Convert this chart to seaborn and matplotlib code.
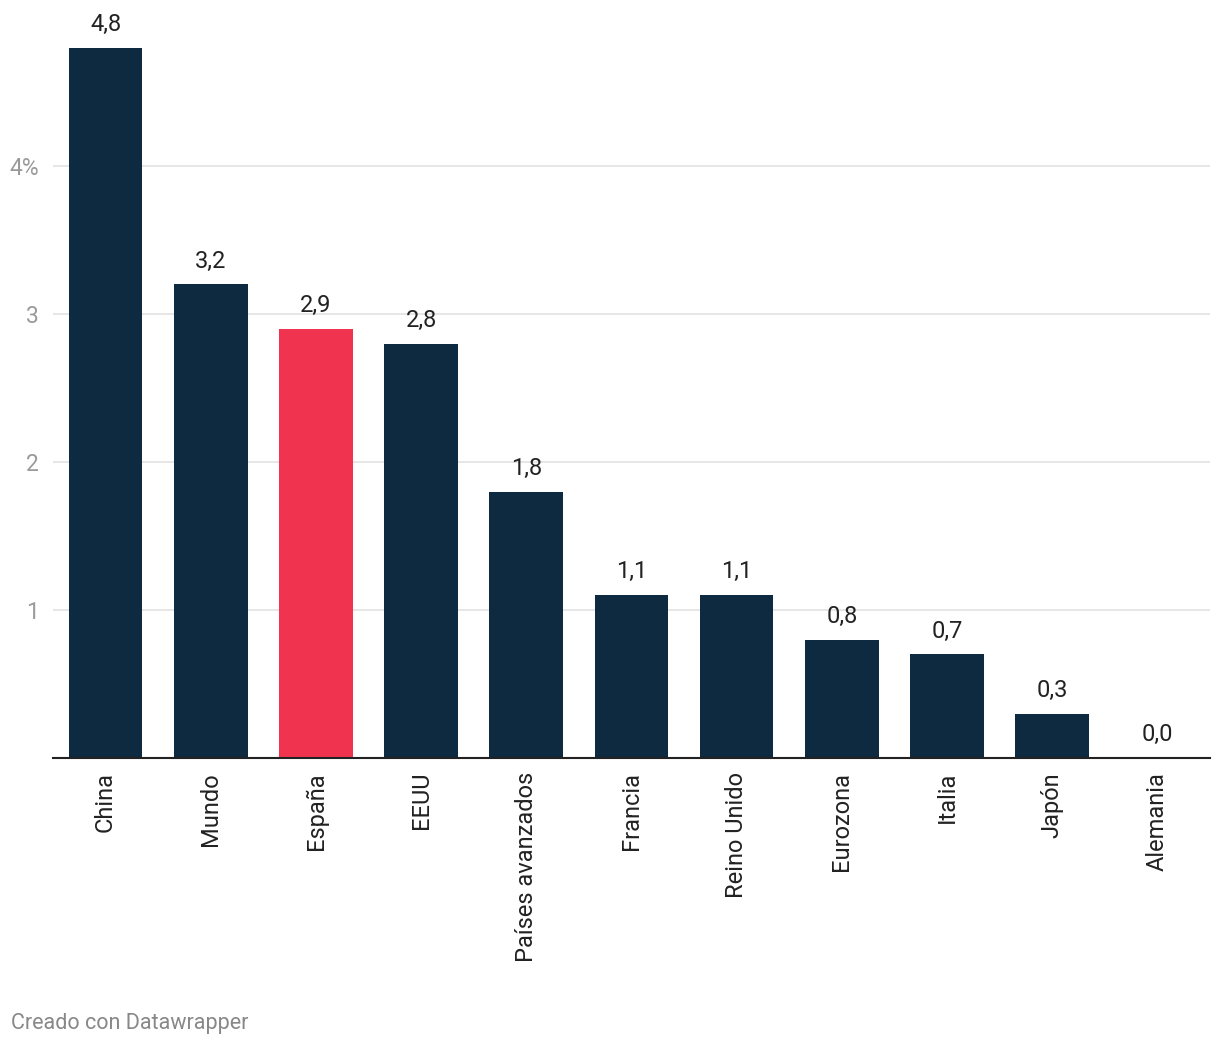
import pandas as pd
import matplotlib.pyplot as plt
import seaborn as sns

# Data
paises = ['China', 'Mundo', 'España', 'EEUU', 'Países avanzados', 'Francia',
          'Reino Unido', 'Eurozona', 'Italia', 'Japón', 'Alemania']
crecimiento = [4.8, 3.2, 2.9, 2.8, 1.8, 1.1, 1.1, 0.8, 0.7, 0.3, 0.0]
destacado = 'España'

df = pd.DataFrame({'pais': paises, 'valor': crecimiento})
colores = ['#f0344f' if p == destacado else '#0e2a40' for p in paises]

sns.set_style('white')
plt.rcParams['font.family'] = ['Roboto', 'DejaVu Sans']

fig = plt.figure(figsize=(12.2, 10.48), dpi=100)
ax = fig.add_axes([0.0434, 0.2767, 0.9484, 0.7061])

sns.barplot(data=df, x='pais', y='valor', hue='pais', palette=colores,
            legend=False, width=0.7, saturation=1, linewidth=0, ax=ax)

ax.set_xlim(-0.5, len(paises) - 0.5)
ax.set_ylim(0, 5.0)
ax.set_yticks([1, 2, 3, 4])
ax.set_yticklabels(['1', '2', '3', '4%'], color='#9a9a9a', fontsize=16.5)
ax.yaxis.grid(True, color='#e2e2e2', linewidth=1.2)
ax.set_axisbelow(True)
ax.tick_params(axis='y', length=0, pad=10)
ax.tick_params(axis='x', length=0, pad=10)
plt.setp(ax.get_xticklabels(), rotation=90, fontsize=17, color='#222222')
ax.set_xlabel('')
ax.set_ylabel('')

for s in ['top', 'right', 'left']:
    ax.spines[s].set_visible(False)
ax.spines['bottom'].set_color('#222222')
ax.spines['bottom'].set_linewidth(1.5)

for i, v in enumerate(crecimiento):
    ax.text(i, v + 0.08, f'{v:.1f}'.replace('.', ','), ha='center', va='bottom',
            fontsize=17, color='#222222')

fig.text(0.009, 0.018, 'Creado con Datawrapper', fontsize=15.5, color='#888888')

fig.savefig('out.png', dpi=100)
